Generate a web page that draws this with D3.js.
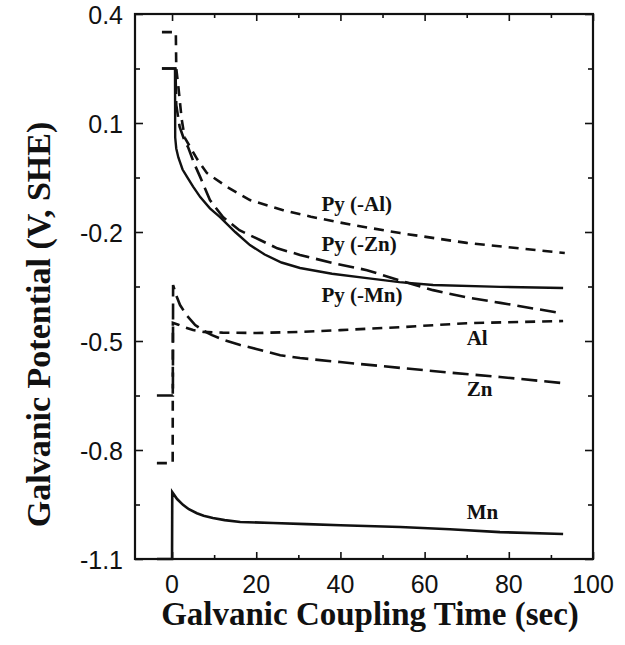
<!DOCTYPE html>
<html>
<head>
<meta charset="utf-8">
<script src="https://cdn.jsdelivr.net/npm/d3@7"></script>
<style>
  body { margin: 0; background: #fff; }
  .tick-label { font-family: "Liberation Sans", Arial, sans-serif; font-size: 25px; fill: #111; }
  .title { font-family: "Liberation Serif", "Times New Roman", serif; font-weight: bold; fill: #111; }
  .series-label { font-family: "Liberation Serif", "Times New Roman", serif; font-weight: bold; font-size: 21px; fill: #111; }
</style>
</head>
<body>
<div id="chart"></div>
<script>
// series: time (sec) and potential (V, SHE)
const tPyAl = [-2.4, 0.9, 1.0, 1.5, 2.3, 3.0, 4.3, 6, 8.3, 13.1, 18.5, 26.4, 33, 43, 54.2, 70, 93.3];
const vPyAl = [0.35, 0.35, 0.25, 0.2, 0.11, 0.06, 0.034, 0.0, -0.038, -0.076, -0.112, -0.14, -0.158, -0.181, -0.203, -0.230, -0.258];

const tPyZn = [-2.4, 0.8, 1.0, 1.8, 3.0, 3.8, 5.2, 6.7, 9.0, 12.1, 16, 20.9, 25, 30.4, 38, 46.3, 54, 62, 70, 78, 92.2];
const vPyZn = [0.25, 0.25, 0.15, 0.09, 0.05, 0.034, -0.01, -0.049, -0.112, -0.159, -0.195, -0.222, -0.245, -0.263, -0.285, -0.305, -0.333, -0.36, -0.38, -0.395, -0.423];

const tPyMn = [-2.4, 0.7, 0.75, 1.0, 1.5, 2.5, 3.6, 5, 6.7, 9, 11.4, 15, 18.5, 22, 26, 30.4, 38, 46.3, 54, 62, 78, 92.9];
const vPyMn = [0.25, 0.25, 0.06, 0.03, 0.005, -0.028, -0.049, -0.075, -0.104, -0.135, -0.159, -0.2, -0.236, -0.262, -0.284, -0.299, -0.315, -0.327, -0.338, -0.346, -0.351, -0.354];

const tAl = [-3.6, 0.15, 0.2, 1.5, 3, 5, 7.5, 12, 20, 30.4, 40, 54.2, 70, 92.9];
const vAl = [-0.836, -0.836, -0.45, -0.455, -0.462, -0.47, -0.475, -0.477, -0.478, -0.475, -0.47, -0.462, -0.451, -0.445];

const tZn = [-3.6, 0.2, 0.25, 1.0, 1.9, 3.5, 5.5, 7.5, 9.5, 12.5, 16.2, 20, 25.7, 30.4, 39.9, 54.2, 66, 77.9, 92.9];
const vZn = [-0.65, -0.65, -0.346, -0.375, -0.401, -0.43, -0.456, -0.472, -0.484, -0.498, -0.511, -0.522, -0.539, -0.547, -0.558, -0.574, -0.587, -0.599, -0.616];

const tMn = [-3.6, 0, 0.05, 1.2, 2.6, 4, 5.9, 7.5, 9.7, 12.5, 16.2, 24, 32, 40, 54.2, 66, 77.9, 92.9];
const vMn = [-1.1, -1.1, -0.916, -0.935, -0.951, -0.963, -0.974, -0.981, -0.987, -0.993, -0.998, -1.001, -1.004, -1.007, -1.012, -1.018, -1.026, -1.031];

const seriesNames = ["Py (-Al)", "Py (-Zn)", "Py (-Mn)", "Al", "Zn", "Mn"];

// axis ticks
const xMajor = [0, 20, 40, 60, 80, 100];
const xMinor = [10, 30, 50, 70, 90];
const yMajor = [0.4, 0.1, -0.2, -0.5, -0.8, -1.1];
const yMinor = [0.25, -0.05, -0.35, -0.65, -0.95];

const margin = {top: 14, right: 32, bottom: 86, left: 135};
const width = 625 - margin.left - margin.right;
const height = 645 - margin.top - margin.bottom;

var svg = d3.select("#chart")
    .append("svg")
    .attr("width", 625)
    .attr("height", 645)
    .append("g")
    .attr("transform", "translate(" + margin.left + "," + margin.top + ")");

var x = d3.scaleLinear().domain([-8.8, 100]).range([0, width]);
var y = d3.scaleLinear().domain([-1.1, 0.4]).range([height, 0]);

// ticks on all four sides, pointing inward
function addTicks(values, len) {
    svg.append("g").call(d3.axisBottom(x).tickValues(values).tickSize(-len).tickFormat(""))
        .attr("transform", "translate(0," + height + ")");
    svg.append("g").call(d3.axisTop(x).tickValues(values).tickSize(-len).tickFormat(""));
}
function addYTicks(values, len) {
    svg.append("g").call(d3.axisLeft(y).tickValues(values).tickSize(-len).tickFormat(""));
    svg.append("g").call(d3.axisRight(y).tickValues(values).tickSize(-len).tickFormat(""))
        .attr("transform", "translate(" + width + ",0)");
}
addTicks(xMajor, 7);
addTicks(xMinor, 4);
addYTicks(yMajor, 8);
addYTicks(yMinor, 5);
svg.selectAll(".domain").remove();
svg.selectAll(".tick line").attr("stroke", "#111").attr("stroke-width", 1.6);

// frame
svg.append("rect")
    .attr("width", width)
    .attr("height", height)
    .attr("fill", "none")
    .attr("stroke", "#111")
    .attr("stroke-width", 2.2);

// tick labels
svg.selectAll(".xlab")
    .data(xMajor)
    .enter()
    .append("text")
    .attr("class", "tick-label")
    .attr("text-anchor", "middle")
    .attr("x", d => x(d))
    .attr("y", height + 34)
    .text(d => d);

svg.selectAll(".ylab")
    .data(yMajor)
    .enter()
    .append("text")
    .attr("class", "tick-label")
    .attr("text-anchor", "end")
    .attr("x", -12)
    .attr("y", d => y(d) + 10)
    .text(d => d3.format(".1f")(d).replace("−", "-"));

// curves
var line = d3.line()
    .x(d => x(d[0]))
    .y(d => y(d[1]));

function zip(t, v) { return t.map((d, i) => [d, v[i]]); }

var curves = [
    {data: zip(tPyAl, vPyAl), dash: "10,7", w: 2.6},
    {data: zip(tPyZn, vPyZn), dash: "16,7", w: 2.6},
    {data: zip(tPyMn, vPyMn), dash: null, w: 2.4},
    {data: zip(tAl, vAl), dash: "10,7", w: 2.6},
    {data: zip(tZn, vZn), dash: "16,7", w: 2.6},
    {data: zip(tMn, vMn), dash: null, w: 2.6}
];

svg.selectAll(".curve")
    .data(curves)
    .enter()
    .append("path")
    .attr("fill", "none")
    .attr("stroke", "#111")
    .attr("stroke-width", d => d.w)
    .attr("stroke-dasharray", d => d.dash)
    .attr("d", d => line(d.data));

// series labels (left edge, baseline) in data units
const labelT = [35.5, 35.5, 35.5, 70, 70, 70];
const labelV = [-0.142, -0.252, -0.393, -0.511, -0.651, -0.99];

svg.selectAll(".series-label")
    .data(seriesNames)
    .enter()
    .append("text")
    .attr("class", "series-label")
    .attr("x", (d, i) => x(labelT[i]))
    .attr("y", (d, i) => y(labelV[i]))
    .text(d => d);

// axis titles
svg.append("text")
    .attr("class", "title")
    .attr("text-anchor", "middle")
    .attr("font-size", 33)
    .attr("x", width / 2 + 6)
    .attr("y", height + 66)
    .text("Galvanic Coupling Time (sec)");

svg.append("text")
    .attr("class", "title")
    .attr("text-anchor", "middle")
    .attr("font-size", 34)
    .attr("transform", "translate(-85," + (height / 2 + 38) + ") rotate(-90)")
    .text("Galvanic Potential (V, SHE)");
</script>
</body>
</html>
